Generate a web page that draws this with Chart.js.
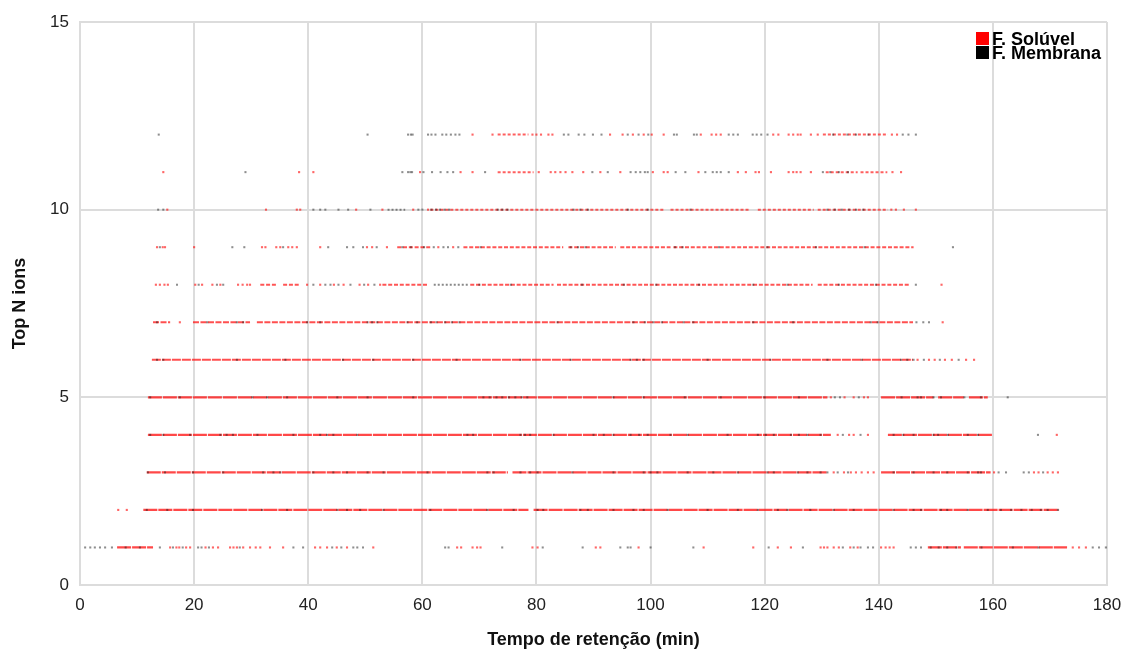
<!DOCTYPE html>
<html>
<head>
<meta charset="utf-8">
<script src="https://cdn.jsdelivr.net/npm/chart.js@4.4.1/dist/chart.umd.min.js"></script>
<style>
  html, body { margin: 0; padding: 0; background: #fff; }
  #wrap { width: 1125px; height: 651px; position: relative; }
</style>
</head>
<body>
<div id="wrap"><canvas id="c"></canvas></div>
<script>
// Top N rank of each ion vs retention time
const topN = [1, 2, 3, 4, 5, 6, 7, 8, 9, 10, 11, 12];
const seriesNames = ['F. Solúvel', 'F. Membrana'];
const seriesColors = ['#ff0000', '#000000'];
const xTicks = [0, 20, 40, 60, 80, 100, 120, 140, 160, 180];
const yTicks = [0, 5, 10, 15];
const xTitle = 'Tempo de retenção (min)';
const yTitle = 'Top N ions';

// Stretches of retention time (min) where a rank is recorded continuously; index 0 = Top 1
const solubleRuns = [
  [[6.5, 12.8], [148.6, 154.4], [154.9, 173.0]],
  [[11.1, 78.6], [79.5, 171.6]],
  [[11.7, 75.0], [75.8, 131.0], [140.4, 159.6]],
  [[11.9, 131.6], [141.6, 160.0]],
  [[11.9, 131.0], [140.4, 149.6], [150.4, 154.9], [155.8, 159.1]],
  [[12.6, 146.0]],
  [[12.8, 15.8], [19.8, 29.8], [31.0, 146.0]],
  [[31.6, 34.6], [35.6, 38.6], [53.0, 61.0], [68.4, 83.0], [83.6, 113.5], [113.9, 128.4], [129.3, 145.3]],
  [[55.6, 61.4], [67.2, 84.7], [85.6, 93.9], [94.7, 103.5], [104.0, 146.1]],
  [[61.4, 102.3], [103.5, 117.5], [118.8, 128.6], [129.3, 141.6]],
  [[73.2, 79.5], [130.7, 136.3], [136.8, 141.5]],
  [[73.2, 78.6], [130.2, 141.6]]
];
const membraneRuns = [
  [], [], [], [], [], [], [],
  [[62.0, 68.0]],
  [],
  [[53.9, 57.0]],
  [], []
];

// Isolated scans (min); index 0 = Top 1
const solubleDots = [
  [15.8, 16.9, 17.4, 18.6, 19.3, 22.0, 23.3, 24.2, 26.3, 26.9, 27.5, 28.6, 29.8, 30.8, 31.6, 33.3, 35.6, 41.2, 42.1, 43.3, 45.0, 46.8, 51.4, 66.1, 66.8, 68.8, 69.6, 70.2, 79.3, 80.2, 90.4, 91.2, 97.9, 109.3, 118.0, 122.3, 124.6, 129.8, 130.4, 131.0, 132.1, 133.0, 135.0, 136.3, 140.4, 141.2, 141.9, 142.6, 174.0, 175.1, 176.3],
  [6.7, 8.2],
  [132.1, 133.9, 135.1, 136.0, 137.0, 138.1, 139.1, 160.2, 167.2, 168.0, 169.6, 170.5, 171.4],
  [132.8, 134.8, 135.6, 138.1, 171.2],
  [131.6, 134.0, 135.6, 137.4, 138.1],
  [146.8, 148.8, 149.8, 151.6, 152.8, 155.3, 156.7],
  [17.5, 151.2],
  [13.3, 14.0, 14.8, 15.4, 20.2, 21.4, 23.2, 24.6, 27.7, 28.5, 29.3, 29.8, 39.8, 42.1, 44.5, 46.2, 49.0, 50.5, 52.6, 151.0],
  [13.5, 14.5, 14.9, 20.0, 31.9, 32.5, 34.4, 35.1, 36.5, 37.2, 38.0, 42.1, 50.3, 51.2, 53.8, 62.8, 65.4],
  [15.3, 32.6, 38.0, 38.6, 48.4, 53.0, 58.4, 61.0, 142.2, 143.0, 144.4, 146.5],
  [14.6, 38.4, 40.9, 59.6, 66.7, 68.8, 80.4, 82.5, 83.3, 84.2, 85.1, 86.3, 88.2, 91.2, 94.7, 100.4, 102.3, 103.0, 108.4, 115.3, 116.7, 118.4, 119.0, 121.1, 124.2, 125.0, 125.6, 126.3, 128.1, 142.4, 143.9],
  [68.8, 72.3, 79.3, 80.0, 80.8, 82.1, 82.8, 92.9, 95.1, 96.9, 98.8, 100.2, 102.3, 108.8, 110.7, 111.5, 112.3, 121.5, 122.4, 124.2, 125.0, 125.8, 126.3, 128.1, 129.3, 142.3, 143.2]
];
const membraneDots = [
  [0.9, 1.8, 2.6, 3.5, 4.4, 5.6, 8.0, 10.5, 14.0, 16.3, 18.0, 20.7, 21.3, 22.6, 28.0, 37.4, 39.1, 44.2, 45.8, 47.9, 48.6, 49.6, 64.0, 64.6, 74.0, 81.1, 88.1, 94.7, 96.0, 96.5, 100.0, 107.5, 120.7, 126.7, 133.7, 135.6, 136.8, 138.1, 139.0, 145.6, 146.5, 147.4, 149.1, 150.5, 152.0, 153.6, 158.0, 163.5, 168.0, 177.5, 178.6, 179.8],
  [11.7, 15.3, 19.8, 31.9, 36.3, 45.1, 46.8, 49.1, 53.2, 61.4, 71.4, 76.0, 80.2, 81.2, 87.7, 89.0, 93.5, 97.0, 98.8, 103.0, 110.0, 115.3, 118.8, 122.3, 124.0, 128.0, 132.1, 135.6, 142.6, 146.1, 147.4, 150.9, 152.0, 155.6, 159.1, 161.4, 163.2, 165.0, 166.8, 168.4, 169.6, 171.4],
  [11.9, 14.9, 19.8, 25.1, 32.1, 33.9, 35.1, 40.9, 44.4, 46.8, 50.4, 53.2, 60.9, 71.4, 72.5, 77.2, 78.9, 80.2, 86.3, 93.5, 98.8, 100.0, 101.2, 106.5, 111.0, 115.3, 120.5, 121.6, 125.8, 127.5, 129.8, 131.0, 132.8, 134.6, 142.6, 146.1, 149.6, 152.0, 155.6, 157.4, 157.9, 161.0, 162.3, 165.4, 166.3, 168.8],
  [12.3, 14.6, 19.3, 24.6, 25.7, 26.8, 31.1, 37.4, 42.1, 43.3, 44.4, 48.6, 67.9, 68.9, 77.2, 78.0, 78.9, 83.0, 90.0, 91.8, 93.5, 96.5, 98.0, 99.5, 103.5, 106.5, 113.5, 118.8, 120.2, 121.6, 124.6, 126.0, 127.5, 129.8, 133.7, 136.8, 142.6, 144.3, 146.1, 149.6, 150.4, 152.1, 155.6, 157.4, 167.9],
  [12.3, 17.5, 30.2, 32.8, 36.3, 45.1, 50.4, 58.4, 70.7, 71.8, 73.0, 74.0, 75.2, 76.3, 77.4, 78.4, 93.5, 98.8, 106.0, 112.3, 120.0, 126.0, 132.3, 133.2, 136.5, 144.0, 146.8, 147.4, 149.6, 150.9, 155.0, 157.9, 162.6],
  [13.5, 14.6, 27.5, 36.0, 46.1, 51.4, 58.4, 66.0, 77.2, 86.0, 96.5, 97.6, 98.8, 110.0, 121.0, 131.0, 137.0, 143.9, 145.0, 146.1, 147.9, 150.7, 154.0],
  [13.5, 22.3, 27.5, 28.6, 39.8, 42.1, 50.4, 51.2, 52.1, 57.4, 59.1, 61.5, 62.5, 64.0, 65.2, 66.5, 83.7, 97.0, 99.0, 100.5, 102.0, 105.8, 107.5, 118.0, 125.0, 138.6, 139.8, 146.6, 147.8, 148.8],
  [17.0, 20.8, 24.0, 25.1, 40.9, 43.0, 43.9, 45.3, 47.4, 49.8, 51.6, 70.0, 75.5, 88.0, 95.3, 101.0, 108.5, 118.0, 124.0, 133.0, 139.5, 146.5],
  [14.0, 26.7, 28.8, 35.6, 43.5, 46.8, 47.9, 49.6, 52.0, 56.5, 58.0, 60.3, 62.0, 63.7, 64.5, 66.3, 70.2, 86.0, 87.3, 88.6, 104.3, 105.6, 112.0, 120.5, 129.0, 137.5, 153.0],
  [13.7, 14.6, 40.9, 42.1, 43.0, 45.3, 47.0, 50.9, 59.3, 60.0, 61.6, 62.4, 63.1, 63.9, 64.7, 73.2, 74.0, 74.9, 86.5, 87.7, 89.0, 96.0, 99.5, 107.0, 131.0, 132.3, 133.5, 134.8, 136.0, 137.3],
  [29.0, 56.5, 57.5, 57.9, 58.2, 60.2, 61.7, 63.2, 64.4, 65.4, 71.0, 89.8, 92.5, 96.5, 97.4, 98.2, 99.0, 99.5, 104.4, 106.1, 109.6, 110.9, 111.6, 112.3, 113.7, 130.2, 131.5, 133.0, 134.6],
  [13.8, 50.4, 57.5, 58.0, 58.3, 61.0, 61.6, 62.3, 63.5, 64.2, 65.0, 65.8, 66.5, 84.8, 85.6, 87.4, 88.4, 89.9, 91.4, 96.0, 97.9, 99.6, 104.1, 104.6, 107.6, 108.1, 113.7, 114.5, 115.3, 117.9, 118.6, 119.4, 120.5, 132.0, 134.5, 136.0, 138.2, 144.2, 145.2, 146.5]
];

const FONT = '"Liberation Sans", Arial, Helvetica, sans-serif';

// Line look of a continuous stretch: low ranks are near-solid, high ranks broken up
function runStyle(row) {
  if (row <= 5) return { width: 2.2, dash: [14, 1], alpha: 0.78 };
  if (row === 6) return { width: 2.0, dash: [9, 1], alpha: 0.75 };
  if (row === 7) return { width: 2.0, dash: [6, 1.5], alpha: 0.75 };
  if (row <= 9) return { width: 2.0, dash: [4, 1.8], alpha: 0.72 };
  return { width: 2.0, dash: [3, 2], alpha: 0.68 };
}

function runPoints(runs, row) {
  const pts = [];
  runs.forEach(([a, b]) => {
    pts.push({ x: a, y: row }, { x: b, y: row }, { x: b, y: null });
  });
  return pts;
}

const datasets = [];
topN.forEach((row, i) => {
  const st = runStyle(row);
  if (solubleRuns[i].length) {
    datasets.push({
      label: seriesNames[0],
      data: runPoints(solubleRuns[i], row),
      showLine: true, spanGaps: false,
      borderColor: `rgba(255,20,20,${st.alpha})`,
      borderWidth: st.width, borderDash: st.dash,
      borderCapStyle: 'butt', pointRadius: 0, order: 3
    });
  }
  if (membraneRuns[i].length) {
    datasets.push({
      label: seriesNames[1],
      data: runPoints(membraneRuns[i], row),
      showLine: true, spanGaps: false,
      borderColor: 'rgba(40,40,40,0.55)',
      borderWidth: 2.0, borderDash: [2, 2],
      borderCapStyle: 'butt', pointRadius: 0, order: 2
    });
  }
});

const solublePts = [];
const membranePts = [];
topN.forEach((row, i) => {
  solubleDots[i].forEach(x => solublePts.push({ x, y: row }));
  membraneDots[i].forEach(x => membranePts.push({ x, y: row }));
});
datasets.push({
  label: seriesNames[0], data: solublePts, showLine: false,
  pointStyle: 'rect', pointRadius: 1.5, pointBorderWidth: 0,
  pointBackgroundColor: 'rgba(255,0,0,0.6)', order: 1
});
datasets.push({
  label: seriesNames[1], data: membranePts, showLine: false,
  pointStyle: 'rect', pointRadius: 1.45, pointBorderWidth: 0,
  pointBackgroundColor: 'rgba(30,30,30,0.5)', order: 0
});

// Legend drawn in the upper-right corner of the plot area
const cornerLegend = {
  id: 'cornerLegend',
  afterDraw(chart) {
    const { ctx, chartArea } = chart;
    const box = 13, lineH = 14;
    const x0 = chartArea.right - 131;
    ctx.save();
    ctx.font = `bold 18px ${FONT}`;
    ctx.textBaseline = 'alphabetic';
    ctx.textAlign = 'left';
    seriesNames.forEach((name, k) => {
      const y = chartArea.top + 10 + k * lineH;
      ctx.fillStyle = seriesColors[k];
      ctx.fillRect(x0, y, box, box);
      ctx.fillStyle = '#000';
      ctx.fillText(name, x0 + box + 3, y + box);
    });
    ctx.restore();
  }
};

const gridColor = '#dcdcdc';

function noOverflow(scale) {
  scale.paddingLeft = 0;
  scale.paddingRight = 0;
  scale.paddingTop = 0;
  scale.paddingBottom = 0;
}

new Chart(document.getElementById('c'), {
  type: 'scatter',
  data: { datasets },
  plugins: [cornerLegend],
  options: {
    responsive: true,
    maintainAspectRatio: false,
    animation: false,
    events: [],
    layout: { padding: { left: 0, right: 18, top: 22, bottom: 0 } },
    plugins: { legend: { display: false }, tooltip: { enabled: false } },
    scales: {
      x: {
        type: 'linear', min: 0, max: 180,
        afterBuildTicks(scale) { scale.ticks = xTicks.map(v => ({ value: v })); },
        afterFit(scale) { scale.height = 66; noOverflow(scale); },
        grid: { color: gridColor, lineWidth: 2, drawTicks: false },
        border: { display: true, color: gridColor, width: 2 },
        ticks: { padding: 10, color: '#222', font: { family: FONT, size: 17 } },
        title: {
          display: true, text: xTitle, color: '#111',
          font: { family: FONT, size: 18, weight: 'bold' },
          padding: { top: 0, bottom: 0 }
        }
      },
      y: {
        type: 'linear', min: 0, max: 15,
        afterBuildTicks(scale) { scale.ticks = yTicks.map(v => ({ value: v })); },
        afterFit(scale) { scale.width = 80; noOverflow(scale); },
        grid: { color: gridColor, lineWidth: 2, drawTicks: false },
        border: { display: true, color: gridColor, width: 2 },
        ticks: { padding: 11, color: '#222', font: { family: FONT, size: 17 } },
        title: {
          display: true, text: yTitle, color: '#111',
          font: { family: FONT, size: 18, weight: 'bold' },
          padding: { top: 9, bottom: 0 }
        }
      }
    }
  }
});
</script>
</body>
</html>
